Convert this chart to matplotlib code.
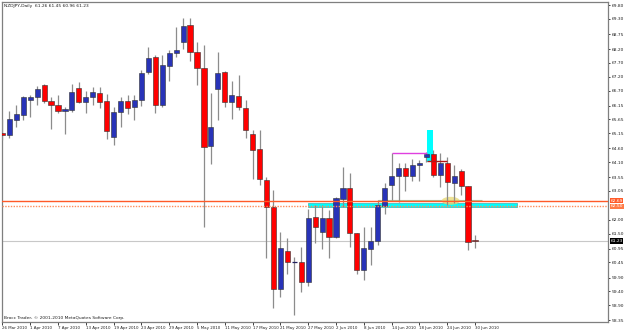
import matplotlib
matplotlib.use("Agg")
import matplotlib.pyplot as plt
import matplotlib.font_manager as fm
from matplotlib.patches import Rectangle, Ellipse

# NZDJPY daily bars, 26 Mar 2010 .. 30 Jun 2010
opens = [65.16, 65.08, 65.63, 65.81, 66.36, 66.46, 66.90, 66.32, 66.17, 65.96,
         65.99, 66.79, 66.28, 66.46, 66.61, 66.32, 65.01, 65.92, 66.32, 66.10,
         66.36, 67.37, 67.92, 66.17, 67.59, 68.06, 68.46, 69.08, 68.10, 67.52,
         64.68, 66.75, 67.37, 66.28, 66.50, 66.06, 65.12, 64.57, 63.45, 62.47,
         59.49, 60.87, 60.47, 60.47, 59.74, 62.10, 61.56, 62.07, 61.38, 62.76,
         63.16, 61.52, 60.18, 60.94, 61.23, 62.50, 63.27, 63.59, 63.88, 63.59,
         63.99, 64.28, 64.39, 63.63, 64.06, 63.34, 63.77, 63.23, 61.26]
highs = [65.66, 65.96, 66.17, 66.50, 66.54, 66.86, 66.94, 66.46, 66.54, 66.10,
         66.94, 67.01, 66.68, 66.83, 66.83, 66.57, 66.10, 66.46, 66.54, 66.54,
         67.45, 68.28, 67.99, 67.99, 68.17, 69.01, 69.34, 69.34, 68.46, 68.35,
         66.61, 68.10, 67.41, 67.05, 67.26, 66.36, 65.26, 65.26, 63.56, 63.08,
         61.56, 61.34, 60.65, 61.01, 62.39, 62.54, 62.54, 62.36, 62.83, 63.92,
         63.70, 61.52, 61.74, 61.74, 62.72, 63.34, 64.43, 64.06, 64.06, 64.21,
         64.17, 64.46, 64.54, 64.43, 64.28, 63.99, 63.85, 63.23, 61.45]
lows = [64.90, 64.97, 65.37, 65.63, 65.74, 66.17, 66.25, 65.30, 65.88, 65.12,
        65.92, 66.25, 65.88, 66.17, 66.06, 64.94, 64.72, 65.37, 65.85, 65.63,
        66.14, 67.30, 65.88, 66.10, 67.05, 67.92, 68.21, 67.77, 66.90, 61.74,
        64.03, 65.63, 66.10, 65.66, 65.99, 64.97, 63.48, 63.27, 60.61, 58.79,
        59.19, 60.03, 58.54, 59.38, 59.59, 61.16, 60.94, 60.61, 61.34, 62.47,
        61.01, 60.03, 59.81, 60.36, 61.08, 62.21, 62.72, 62.65, 63.05, 63.41,
        63.41, 64.10, 63.56, 63.19, 62.54, 62.61, 62.90, 60.90, 60.96]
closes = [65.08, 65.66, 65.85, 66.46, 66.46, 66.75, 66.32, 66.17, 65.96, 66.03,
          66.65, 66.28, 66.46, 66.65, 66.28, 65.23, 65.92, 66.32, 66.06, 66.36,
          67.34, 67.88, 66.17, 67.63, 68.06, 68.17, 69.05, 68.10, 67.52, 64.65,
          65.37, 67.34, 66.28, 66.54, 66.10, 65.26, 64.54, 63.48, 62.47, 59.49,
          60.98, 60.47, 60.48, 59.74, 62.07, 61.74, 62.07, 61.38, 62.79, 63.16,
          61.52, 60.18, 60.98, 61.23, 62.54, 63.16, 63.59, 63.88, 63.59, 63.99,
          64.06, 64.39, 63.63, 64.06, 63.37, 63.59, 63.23, 61.19, 61.23]

date_labels = ["26 Mar 2010", "1 Apr 2010", "7 Apr 2010", "13 Apr 2010",
               "19 Apr 2010", "23 Apr 2010", "29 Apr 2010", "5 May 2010",
               "11 May 2010", "17 May 2010", "21 May 2010", "27 May 2010",
               "2 Jun 2010", "8 Jun 2010", "14 Jun 2010", "18 Jun 2010",
               "24 Jun 2010", "30 Jun 2010"]
price_ticks = [69.80, 69.30, 68.75, 68.20, 67.70, 67.20, 66.70, 66.15, 65.65,
               65.15, 64.60, 64.10, 63.55, 63.05, 62.00, 61.50, 60.95, 60.45,
               59.90, 59.40, 58.90, 58.35]

levels = [62.69, 62.50]   # horizontal lines (solid, dotted)
bid = 61.23

BLUE = "#2833B8"
RED = "#FF0000"
WICK = "#8C8C8C"
FRAME = "#7F7F7F"

# small narrow terminal-like font
_names = {f.name for f in fm.fontManager.ttflist}
if "Liberation Sans Narrow" in _names:
    FONT, FS = "Liberation Sans Narrow", 3.7
else:
    FONT, FS = "DejaVu Sans", 3.2
plt.rcParams["font.family"] = FONT
FS_X = FS * 0.9

fig = plt.figure(figsize=(6.25, 3.3), dpi=100)
fig.patch.set_facecolor("white")
ax = fig.add_axes([2 / 625, 8 / 330, 606 / 625, 320 / 330])
ax.set_xlim(-0.06, 87.14)
ax.set_ylim(58.285, 69.917)

# candles
xs = list(range(len(opens)))
ax.vlines(xs, lows, highs, color=WICK, linewidth=0.9, zorder=3)
for x, o, c in zip(xs, opens, closes):
    if abs(c - o) < 0.02:
        ax.hlines(o, x - 0.36, x + 0.36, color="#202060", linewidth=0.9, zorder=4)
        continue
    col = BLUE if c > o else RED
    ax.bar(x, abs(c - o), bottom=min(o, c), width=0.74, color=col,
           edgecolor="#303030", linewidth=0.4, zorder=4)

# drawn objects
ax.add_patch(Rectangle((44.0, 62.47), 30.0, 0.13, facecolor="#00FFFF",
                       edgecolor="#33B5B5", linewidth=0.5, zorder=2))
ax.hlines(62.73, 54.1, 69.0, color="#A8C8A0", linewidth=0.8, zorder=2)
ax.add_patch(Ellipse((64.5, 62.69), 2.6, 0.29, facecolor="#E8D870",
                     edgecolor="none", alpha=0.75, zorder=2))
ax.add_patch(Rectangle((61.05, 64.10), 0.9, 1.16, facecolor="#00FFFF",
                       edgecolor="none", zorder=3.5))
ax.hlines(64.43, 56.0, 61.1, color="#E040E0", linewidth=1.0, zorder=5)
ax.hlines(64.14, 61.05, 64.0, color="#B01818", linewidth=1.0, zorder=5)

# level lines and bid line
ax.axhline(levels[0], color="#FF5A28", linewidth=1.0, zorder=6)
ax.axhline(levels[1], color="#FF8C5A", linewidth=1.0, linestyle=(0, (1, 1)), zorder=6)
ax.axhline(bid, color="#C8C8C8", linewidth=0.8, zorder=1)

for lv, face in [(levels[0], "#FF5A28"), (levels[1], "#FF7A46")]:
    ax.annotate(f"{lv:.2f}", xy=(1.0, lv), xycoords=("axes fraction", "data"),
                xytext=(1.8, 0), textcoords="offset points", fontsize=FS,
                color="white", va="center", ha="left", annotation_clip=False,
                bbox=dict(boxstyle="square,pad=0.12", facecolor=face,
                          edgecolor="none"), zorder=7)
ax.annotate(f"{bid:.2f}", xy=(1.0, bid), xycoords=("axes fraction", "data"),
            xytext=(1.8, 0), textcoords="offset points", fontsize=FS,
            color="white", va="center", ha="left", annotation_clip=False,
            bbox=dict(boxstyle="square,pad=0.12", facecolor="black",
                      edgecolor="none"), zorder=7)

# axes styling
ax.yaxis.tick_right()
ax.set_yticks(price_ticks)
ax.set_yticklabels([f"{p:.2f}" for p in price_ticks])
ax.tick_params(axis="y", direction="out", length=1.5, width=0.6, pad=1.0,
               labelsize=FS, colors="#202020")
ax.set_xticks(range(0, len(opens), 4))
ax.set_xticklabels(date_labels, ha="left")
ax.tick_params(axis="x", direction="out", length=2, width=0.6, pad=0.8,
               labelsize=FS_X, colors="#202020")
for s in ax.spines.values():
    s.set_color(FRAME)
    s.set_linewidth(0.9)

fig.text(4 / 625, 1 - 6 / 330, "NZDJPY,Daily  61.26 61.45 60.96 61.23",
         fontsize=FS, va="center", ha="left", color="#202020")
fig.text(4 / 625, 1 - 318 / 330,
         "Brocc Trader, \u00a9 2001-2010 MetaQuotes Software Corp.",
         fontsize=FS, va="center", ha="left", color="#202020")

fig.savefig("out.png", dpi=100, facecolor="white")
plt.close(fig)
